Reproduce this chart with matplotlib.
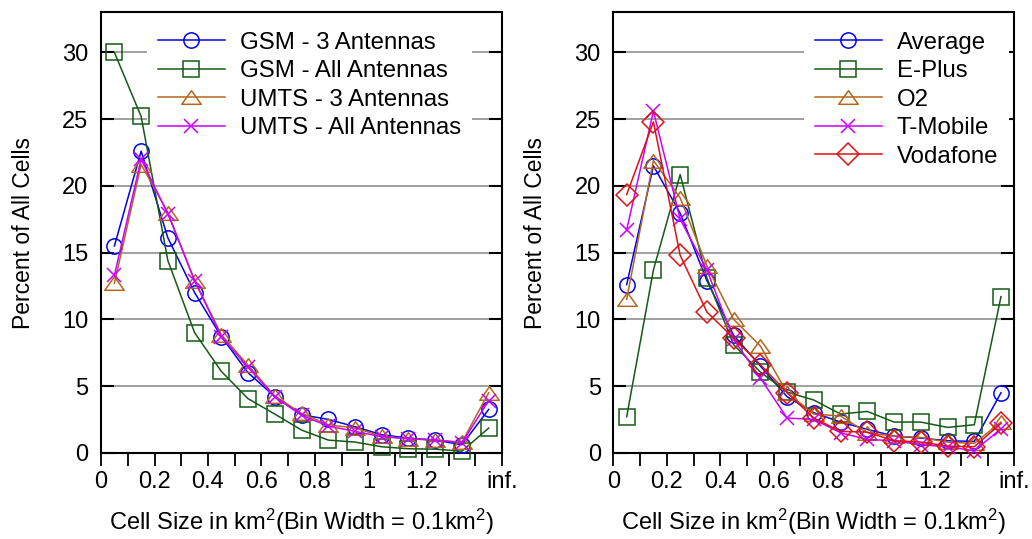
import numpy as np
import matplotlib.pyplot as plt
from matplotlib.path import Path

plt.rcParams['font.family'] = ['Liberation Sans', 'DejaVu Sans']
plt.rcParams['mathtext.fontset'] = 'custom'
plt.rcParams['mathtext.rm'] = 'Liberation Sans'
plt.rcParams['mathtext.it'] = 'Liberation Sans:italic'

# bin centres, last bin is "inf."
bins = [0.05, 0.15, 0.25, 0.35, 0.45, 0.55, 0.65, 0.75, 0.85, 0.95, 1.05, 1.15, 1.25, 1.35, 1.45]

# left panel
gsm_3 = [15.5, 22.6, 16.1, 12.0, 8.7, 6.0, 4.2, 2.85, 2.5, 1.95, 1.35, 1.1, 0.95, 0.6, 3.25]
gsm_all = [30.0, 25.2, 14.4, 9.0, 6.1, 4.05, 2.9, 1.7, 0.95, 0.8, 0.45, 0.3, 0.27, 0.12, 1.85]
umts_3 = [12.7, 21.6, 18.0, 12.9, 8.85, 6.55, 4.25, 2.95, 2.1, 1.85, 1.25, 1.05, 0.95, 0.8, 4.5]
umts_all = [13.3, 22.0, 17.9, 12.9, 8.7, 6.4, 4.2, 2.8, 2.0, 1.6, 1.2, 1.05, 0.95, 0.75, 3.9]

# right panel
average = [12.6, 21.5, 17.95, 12.9, 8.8, 6.5, 4.2, 3.0, 2.3, 1.75, 1.25, 1.1, 0.9, 0.85, 4.5]
eplus = [2.7, 13.7, 20.85, 13.1, 8.1, 6.05, 4.55, 3.95, 2.9, 3.1, 2.3, 2.3, 1.9, 2.1, 11.7]
o2 = [11.5, 21.9, 19.1, 14.0, 10.0, 8.0, 4.5, 2.9, 2.75, 1.5, 1.25, 1.15, 0.8, 0.7, 2.3]
tmobile = [16.7, 25.6, 17.5, 13.7, 8.5, 5.6, 2.6, 2.5, 1.5, 1.0, 0.9, 0.6, 0.45, 0.15, 1.8]
vodafone = [19.35, 24.8, 14.8, 10.55, 8.6, 6.6, 4.5, 2.6, 1.6, 1.55, 0.9, 0.8, 0.5, 0.45, 2.2]

xticks = np.round(np.arange(0, 1.51, 0.1), 2)
xticklabels = ['0', '', '0.2', '', '0.4', '', '0.6', '', '0.8', '', '1', '', '1.2', '', '', 'inf.']
yticks = [0, 5, 10, 15, 20, 25, 30]

blue = '#0000ee'
green = '#145a14'
brown = '#b5651d'
magenta = '#cc00ff'
red = '#dd1111'

tri = Path([(0, 0.7), (-1, -0.7), (1, -0.7), (0, 0.7)],
           [Path.MOVETO, Path.LINETO, Path.LINETO, Path.CLOSEPOLY])

styles = {
    'o': dict(marker='o', ms=11),
    's': dict(marker='s', ms=11),
    '^': dict(marker=tri, ms=14),
    'x': dict(marker='x', ms=10),
    'D': dict(marker='D', ms=11),
}

fs = 17


def setup(ax):
    ax.set_xlim(0, 1.5)
    ax.set_ylim(0, 33)
    ax.set_xticks(xticks)
    ax.set_xticklabels(xticklabels)
    ax.set_yticks(yticks)
    ax.yaxis.grid(True, color='#999999', lw=1.3)
    ax.set_axisbelow(True)
    ax.tick_params(axis='x', direction='out', length=9, width=1.3, pad=4, labelsize=fs)
    ax.tick_params(axis='y', direction='in', length=9.5, width=1.5, pad=9,
                   labelsize=fs, left=True, right=True)
    for s in ax.spines.values():
        s.set_linewidth(1.5)
    ax.set_xlabel(r'Cell Size in km$^2$(Bin Width = 0.1km$^2$)', fontsize=fs, labelpad=10)
    ax.set_ylabel('Percent of All Cells', fontsize=16.5, labelpad=20)


def draw(ax, y, color, key, label):
    ax.plot(bins, y, color=color, lw=1.1, mfc='none', mec=color, mew=1.1,
            label=label, clip_on=False, zorder=6, **styles[key])


fig = plt.figure(figsize=(10.32, 5.39), dpi=100)
ax1 = fig.add_axes([0.0979, 0.160, 0.3886, 0.817])
ax2 = fig.add_axes([0.5943, 0.160, 0.3886, 0.817])

draw(ax1, gsm_3, blue, 'o', 'GSM - 3 Antennas')
draw(ax1, gsm_all, green, 's', 'GSM - All Antennas')
draw(ax1, umts_3, brown, '^', 'UMTS - 3 Antennas')
draw(ax1, umts_all, magenta, 'x', 'UMTS - All Antennas')

draw(ax2, average, blue, 'o', 'Average')
draw(ax2, eplus, green, 's', 'E-Plus')
draw(ax2, o2, brown, '^', 'O2')
draw(ax2, tmobile, magenta, 'x', 'T-Mobile')
draw(ax2, vodafone, red, 'D', 'Vodafone')

for ax in (ax1, ax2):
    setup(ax)

leg_kw = dict(fontsize=17.3, frameon=True, fancybox=False, edgecolor='none',
              facecolor='white', framealpha=1, handlelength=2.78, handletextpad=0.62,
              labelspacing=0.27, borderpad=0.45, borderaxespad=0, loc='upper left')
l1 = ax1.legend(bbox_to_anchor=(0.115, 0.981), **leg_kw)
l2 = ax2.legend(bbox_to_anchor=(0.4755, 0.981), **leg_kw)
l1.set_zorder(4)
l2.set_zorder(4)

fig.savefig('out.png', dpi=100)
